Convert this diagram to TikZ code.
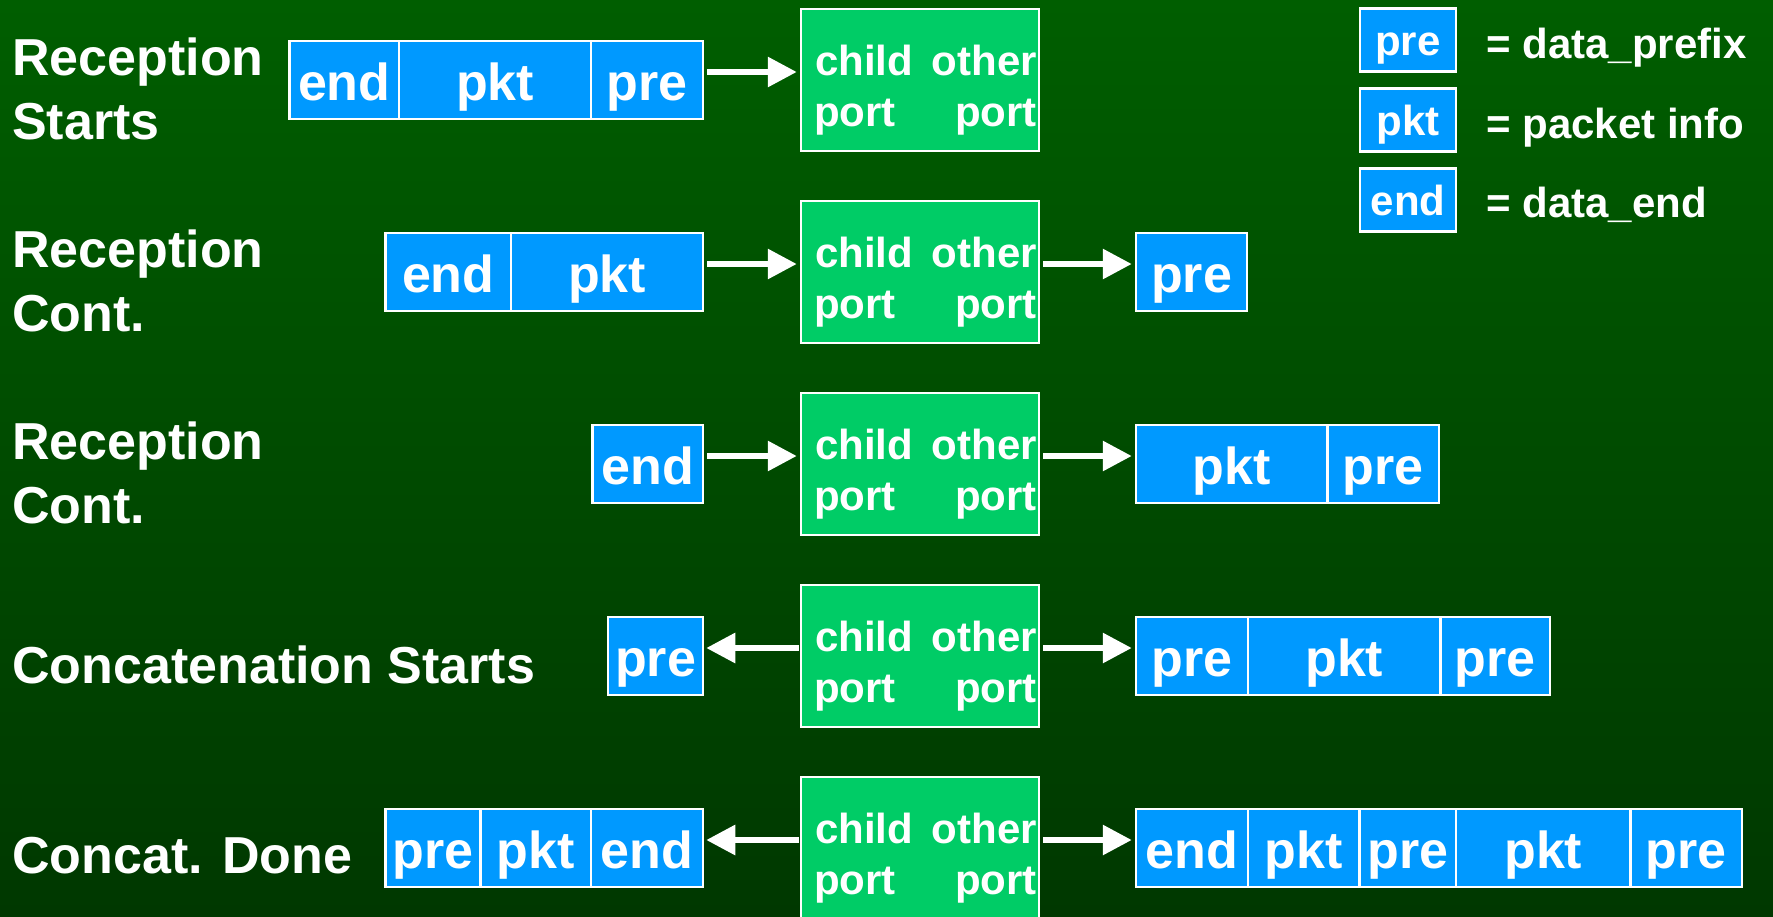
\documentclass[tikz,border=0pt]{standalone}
\usepackage{fontspec}
\setmainfont{Liberation Sans}
\usetikzlibrary{arrows.meta}
\definecolor{bgtop}{RGB}{0,94,0}
\definecolor{bgbot}{RGB}{0,56,0}
\definecolor{blu}{RGB}{0,153,255}
\definecolor{grn}{RGB}{0,204,102}
\tikzset{
  seg/.style={draw=white, line width=2.5pt, fill=blu, inner sep=0pt, minimum height=78pt,
    text=white, font=\fontsize{52}{60}\selectfont\bfseries, text height=40pt, text depth=0pt},
  portbox/.style={draw=white, line width=2.5pt, fill=grn, inner sep=0pt, minimum width=238pt, minimum height=142pt},
  ptxt/.style={text=white, font=\fontsize{42}{50}\selectfont\bfseries, inner sep=0pt},
  lbl/.style={text=white, font=\fontsize{52}{64}\selectfont\bfseries, inner sep=0pt, anchor=base west},
  arr/.style={draw=white, line width=6pt, -{Triangle[length=29pt,width=29pt]}},
  legbox/.style={seg, minimum height=63pt, minimum width=96pt, font=\fontsize{42}{50}\selectfont\bfseries, text height=30pt},
  legtxt/.style={text=white, font=\fontsize{42}{50}\selectfont\bfseries, inner sep=0pt, anchor=base west},
}
\begin{document}
\begin{tikzpicture}[x=1pt,y=-1pt]
\useasboundingbox (0,0) rectangle (1773,916);
\shade[top color=bgtop, bottom color=bgbot] (0,0) rectangle (1773,916);

% ---------- labels ----------
\node[lbl] (l1a) at (12,75) {Reception};
\node[lbl] (l1b) at (12,139) {Starts};
\node[lbl] (l2a) at (12,267) {Reception};
\node[lbl] (l2b) at (12,331) {Cont.};
\node[lbl] (l3a) at (12,459) {Reception};
\node[lbl] (l3b) at (12,523) {Cont.};
\node[lbl] (l4) at (12,683) {Concatenation Starts};
\node[lbl] (l5) at (12,873) {Concat. Done};

% ---------- green port boxes ----------
\foreach \i/\c in {1/80,2/272,3/464,4/656,5/848}{
  \node[portbox] (g\i) at (920,\c) {};
  \node[ptxt, anchor=base west] (g\i cl) at (815,\c-5) {child};
  \node[ptxt, anchor=base east] (g\i ol) at (1037,\c-5) {other};
  \node[ptxt, anchor=base west] (g\i cp) at (814,\c+46) {port};
  \node[ptxt, anchor=base east] (g\i op) at (1037,\c+46) {port};
}

% ---------- row 1 ----------
\node[seg, minimum width=109.5pt] (r1a) at (344.25,80) {end};
\node[seg, minimum width=192pt] (r1b) at (495,80) {pkt};
\node[seg, minimum width=112pt] (r1c) at (647,80) {pre};
\draw[arr] ([xshift=3pt,yshift=8pt]r1c.east) -- ([xshift=-3pt,yshift=8pt]g1.west);

% ---------- row 2 ----------
\node[seg, minimum width=125.4pt] (r2a) at (448.3,272) {end};
\node[seg, minimum width=192pt] (r2b) at (607,272) {pkt};
\node[seg, minimum width=111pt] (r2c) at (1191.5,272) {pre};
\draw[arr] ([xshift=3pt,yshift=8pt]r2b.east) -- ([xshift=-3pt,yshift=8pt]g2.west);
\draw[arr] ([xshift=3pt,yshift=8pt]g2.east) -- ([xshift=-3pt,yshift=8pt]r2c.west);

% ---------- row 3 ----------
\node[seg, minimum width=110.5pt] (r3a) at (647.75,464) {end};
\node[seg, minimum width=191.5pt] (r3b) at (1231.75,464) {pkt};
\node[seg, minimum width=111.5pt] (r3c) at (1383.25,464) {pre};
\draw[arr] ([xshift=3pt,yshift=8pt]r3a.east) -- ([xshift=-3pt,yshift=8pt]g3.west);
\draw[arr] ([xshift=3pt,yshift=8pt]g3.east) -- ([xshift=-3pt,yshift=8pt]r3b.west);

% ---------- row 4 ----------
\node[seg, minimum width=95pt] (r4a) at (655.5,656) {pre};
\node[seg, minimum width=112pt] (r4b) at (1192,656) {pre};
\node[seg, minimum width=192.5pt] (r4c) at (1344.25,656) {pkt};
\node[seg, minimum width=109.5pt] (r4d) at (1495.25,656) {pre};
\draw[arr] ([xshift=-1pt,yshift=8pt]g4.west) -- ([xshift=2pt,yshift=8pt]r4a.east);
\draw[arr] ([xshift=3pt,yshift=8pt]g4.east) -- ([xshift=-3pt,yshift=8pt]r4b.west);

% ---------- row 5 ----------
\node[seg, minimum width=95pt] (r5a) at (433,848) {pre};
\node[seg, minimum width=110.5pt] (r5b) at (535.75,848) {pkt};
\node[seg, minimum width=112pt] (r5c) at (647,848) {end};
\node[seg, minimum width=112pt] (r5d) at (1192,848) {end};
\node[seg, minimum width=111.5pt] (r5e) at (1303.75,848) {pkt};
\node[seg, minimum width=96.5pt] (r5f) at (1407.75,848) {pre};
\node[seg, minimum width=174.5pt] (r5g) at (1543.25,848) {pkt};
\node[seg, minimum width=111.5pt] (r5h) at (1686.25,848) {pre};
\draw[arr] ([xshift=-1pt,yshift=8pt]g5.west) -- ([xshift=2pt,yshift=8pt]r5c.east);
\draw[arr] ([xshift=3pt,yshift=8pt]g5.east) -- ([xshift=-3pt,yshift=8pt]r5d.west);

% ---------- legend ----------
\node[legbox] (k1) at (1408,40) {pre};
\node[legbox] (k2) at (1408,120) {pkt};
\node[legbox] (k3) at (1408,200) {end};
\node[legtxt] (t1) at (1486,58) {= data\_prefix};
\node[legtxt] (t2) at (1486,138) {= packet info};
\node[legtxt] (t3) at (1486,217) {= data\_end};
\end{tikzpicture}
\end{document}
